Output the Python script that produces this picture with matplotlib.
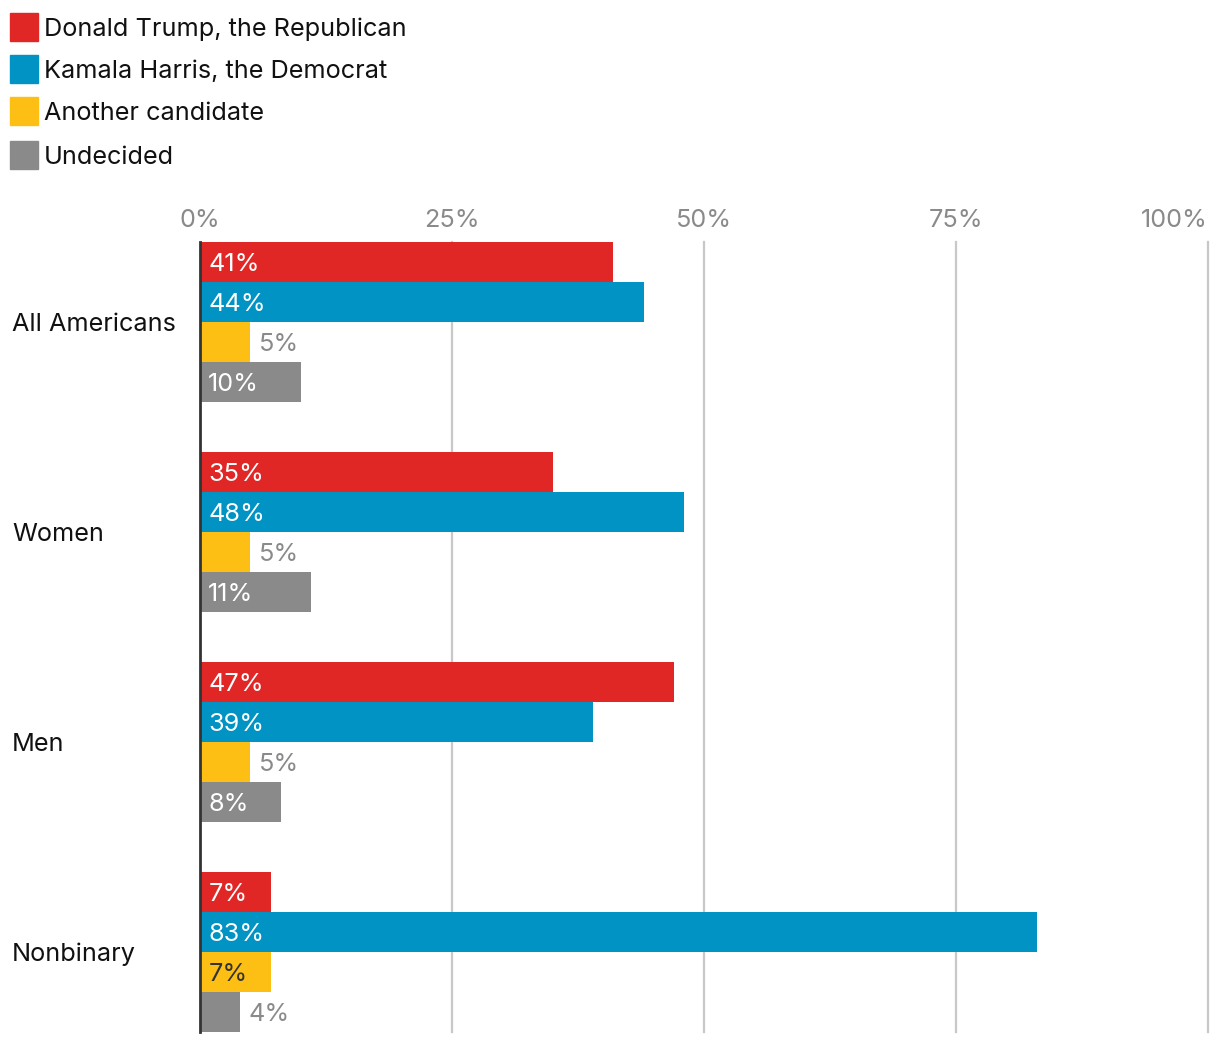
import matplotlib
matplotlib.use("Agg")
import matplotlib.pyplot as plt
from matplotlib.patches import Rectangle

plt.rcParams['font.family'] = ['Inter', 'DejaVu Sans']

categories = ["All Americans", "Women", "Men", "Nonbinary"]
series_names = ["Donald Trump, the Republican", "Kamala Harris, the Democrat",
                "Another candidate", "Undecided"]
trump = [41, 35, 47, 7]
harris = [44, 48, 39, 83]
another = [5, 5, 5, 7]
undecided = [10, 11, 8, 4]
tick_values = [0, 25, 50, 75, 100]
tick_labels = ["0%", "25%", "50%", "75%", "100%"]

colors = ["#E12726", "#0093C3", "#FDBF13", "#8A8A8A"]
inside_text = ["white", "white", "#333333", "white"]
series = [trump, harris, another, undecided]

W, H = 1220, 1042
fig = plt.figure(figsize=(W / 100, H / 100), dpi=100)
ax_left, ax_right = 200 / W, 1208 / W
ax_top, ax_bottom = 242 / H, 1032 / H
ax = fig.add_axes([ax_left, 1 - ax_bottom, ax_right - ax_left, ax_bottom - ax_top])

FS = 18.2
DY = -1.5  # points, small downward shift of text
group_step = 5.25
for g, cat in enumerate(categories):
    for j, s in enumerate(series):
        y = g * group_step + j
        v = s[g]
        ax.barh(y, v, height=1.0, color=colors[j], zorder=2)
        if v >= 7:
            ax.annotate(f"{v}%", (0, y), xytext=(6, DY), textcoords="offset points",
                        va="center", ha="left", fontsize=FS, color=inside_text[j], zorder=3)
        else:
            ax.annotate(f"{v}%", (v, y), xytext=(6, DY), textcoords="offset points",
                        va="center", ha="left", fontsize=FS, color="#8A8A8A", zorder=3)
    yc = g * group_step + 1.5
    ax.annotate(cat, (0, yc), xytext=(-188 * 0.72, DY), textcoords="offset points",
                ha="left", va="center", fontsize=FS, color="#111111", annotation_clip=False)

ax.set_xlim(0, 100)
ax.set_ylim(19.25, -0.5)
for t in tick_values[1:]:
    ax.axvline(t, color="#C8C8C8", lw=1.6, zorder=1, clip_on=False)
ax.axvline(0, color="#333333", lw=2.0, zorder=4, clip_on=False)
for t, lab in zip(tick_values, tick_labels):
    ha = "right" if t == 100 else "center"
    ax.annotate(lab, (t, 1), xycoords=("data", "axes fraction"), xytext=(0, 17 + DY),
                textcoords="offset points", ha=ha, va="center", fontsize=FS, color="#8A8A8A",
                annotation_clip=False)

ax.axis("off")

# legend
for i, (name, c) in enumerate(zip(series_names, colors)):
    yc = [27, 69, 111, 155][i]
    fig.patches.append(Rectangle((10 / W, 1 - (yc + 14) / H), 28 / W, 28 / H,
                                 transform=fig.transFigure, color=c))
    fig.text(44 / W, 1 - (yc + 2) / H, name, ha="left", va="center", fontsize=FS, color="#111111")

fig.savefig("out.png", dpi=100)
